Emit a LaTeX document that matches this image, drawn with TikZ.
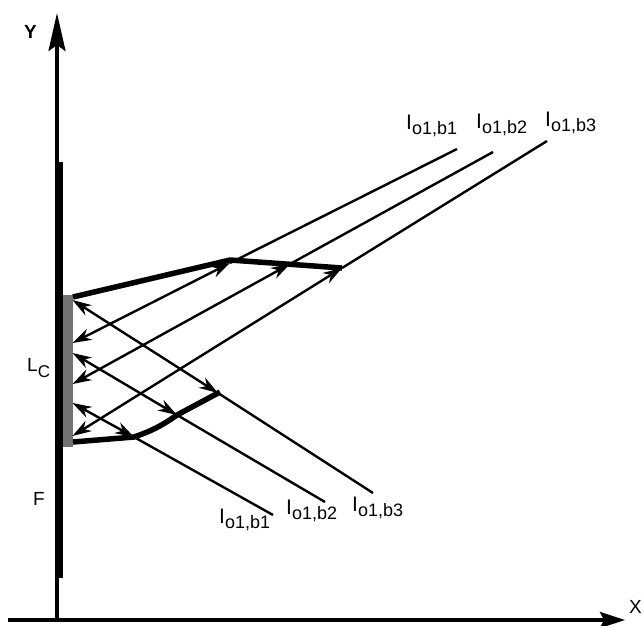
\documentclass[tikz,border=0pt]{standalone}
\usepackage{fontspec}
\setmainfont{Liberation Sans}
\usetikzlibrary{arrows.meta}
\newcommand\beamlab[1]{\fontsize{21}{21}\selectfont I\raisebox{-5pt}{\fontsize{18}{18}\selectfont o1,b#1}}
\begin{document}
\begin{tikzpicture}[x=1pt,y=-1pt,
  ray/.style={line width=2.4pt,{Stealth[length=19pt,width=12pt,inset=6pt]}-{Stealth[length=19pt,width=12pt,inset=6pt]}},
  rayend/.style={line width=2.4pt},
  wave/.style={line width=5.5pt,line join=round},
  axis/.style={line width=3.5pt},
  lab/.style={inner sep=0pt,anchor=base west},
  biglab/.style={inner sep=0pt,anchor=base west,font=\fontsize{19}{19}\selectfont}]
\useasboundingbox (0,0) rectangle (643,625);
% axes
\draw[axis,-{Stealth[length=38pt,width=17pt,inset=6pt]}] (57,620) -- (57,13);
\draw[axis,-{Stealth[length=25pt,width=16pt,inset=4pt]}] (8,620) -- (625,620);
\node[lab,font=\bfseries\fontsize{19}{19}\selectfont] (ylab) at (24,38) {Y};
\node[lab,font=\fontsize{19}{19}\selectfont] (xlab) at (629,613) {X};
% F bar and L_C
\fill[black] (54.5,162) rectangle (62.7,578);
\fill[black!55] (62.7,295) rectangle (72.5,447);
\node[biglab] (lc) at (27,371) {L\raisebox{-6pt}{\fontsize{17}{17}\selectfont C}};
\node[biglab] (f) at (33,505) {F};
% ray points
\coordinate (u1s) at (72.5,343); \coordinate (u1w) at (230,263); \coordinate (u1e) at (457,149);
\coordinate (u2s) at (72.5,384); \coordinate (u2w) at (290,264); \coordinate (u2e) at (493,152);
\coordinate (u3s) at (72.5,436); \coordinate (u3w) at (342,268); \coordinate (u3e) at (547,141);
\coordinate (d3s) at (72.5,300); \coordinate (d3w) at (218,393); \coordinate (d3e) at (373,493);
\coordinate (d2s) at (72.5,353); \coordinate (d2w) at (177,415); \coordinate (d2e) at (325,502);
\coordinate (d1s) at (72.5,403); \coordinate (d1w) at (134,437); \coordinate (d1e) at (273,515);
% wavefronts
\coordinate (wa0) at (73,297); \coordinate (wa1) at (230,260); \coordinate (wa2) at (342,268);
\coordinate (wb0) at (73,442); \coordinate (wb3) at (220,392);
\draw[wave] (wa0) -- (wa1) -- (wa2);
\draw[wave] (wb0) -- (d1w) to[bend right=8] (d2w) -- (wb3);
% rays
\foreach \r in {u1,u2,u3,d1,d2,d3}{
  \draw[ray] (\r s) -- (\r w);
  \draw[rayend] (\r w) -- (\r e);
}
% labels
\node[lab] (t1) at (406,129) {\beamlab{1}};
\node[lab] (t2) at (476,128) {\beamlab{2}};
\node[lab] (t3) at (545,126) {\beamlab{3}};
\node[lab] (b1) at (219,523) {\beamlab{1}};
\node[lab] (b2) at (286,514) {\beamlab{2}};
\node[lab] (b3) at (352,511) {\beamlab{3}};
\end{tikzpicture}
\end{document}
